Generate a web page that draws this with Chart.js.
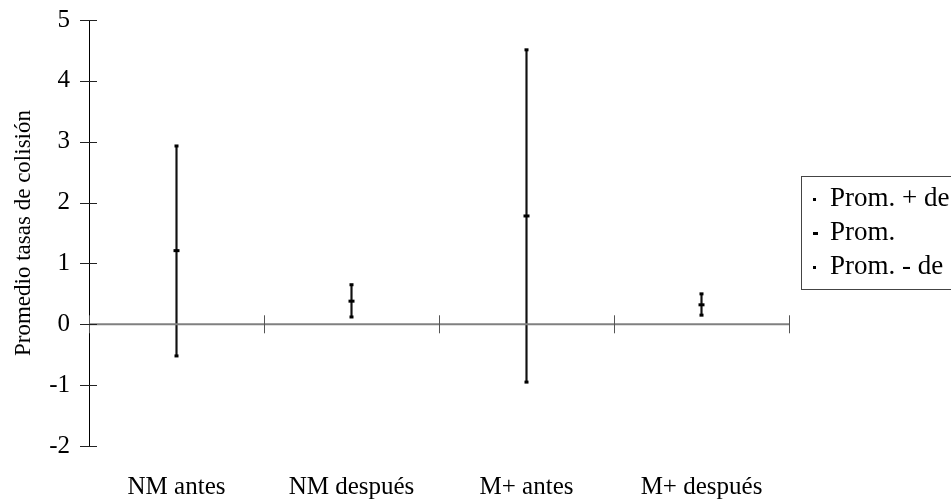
<!DOCTYPE html>
<html>
<head>
<meta charset="utf-8">
<script src="https://cdn.jsdelivr.net/npm/chart.js@4"></script>
<style>
  html, body { margin: 0; padding: 0; background: #fff; overflow: hidden; }
  #wrap { width: 951px; height: 500px; }
</style>
</head>
<body>
<div id="wrap"><canvas id="myChart"></canvas></div>
<script>
const ctx = document.getElementById("myChart");

// data
const categories = ["NM antes", "NM después", "M+ antes", "M+ después"];
const highValues = [2.93, 0.65, 4.51, 0.50];
const meanValues = [1.21, 0.38, 1.78, 0.32];
const lowValues = [-0.52, 0.12, -0.95, 0.15];
const legendLabels = ["Prom. + de", "Prom.", "Prom. - de"];

const serif = "'Liberation Serif', 'Times New Roman', serif";

// axis at zero + ticks that cross the axes, like the old excel style
const crossTicks = {
  id: "crossTicks",
  afterDatasetsDraw(chart) {
    const c = chart.ctx;
    const x = chart.scales.x;
    const y = chart.scales.y;
    const zero = y.getPixelForValue(0);
    c.save();
    // x axis line at zero
    c.strokeStyle = "#808080";
    c.lineWidth = 2;
    c.beginPath();
    c.moveTo(x.left, zero);
    c.lineTo(x.right, zero);
    c.stroke();
    // category boundaries
    c.strokeStyle = "#555";
    c.lineWidth = 1;
    const step = x.getPixelForValue(1) - x.getPixelForValue(0);
    for (let i = 0; i <= categories.length; i++) {
      const px = i < categories.length ? x.getPixelForValue(i) - step / 2 : x.right;
      const sx = Math.round(px) + 0.5;
      c.beginPath();
      c.moveTo(sx, zero - 9);
      c.lineTo(sx, zero + 9);
      c.stroke();
    }
    // y ticks
    c.strokeStyle = "#222";
    y.ticks.forEach((t) => {
      const py = Math.round(y.getPixelForValue(t.value)) + 0.5;
      c.beginPath();
      c.moveTo(y.right - 9, py);
      c.lineTo(y.right + 8, py);
      c.stroke();
    });
    c.restore();
  },
};

// boxed legend on the right (it runs off the edge in the original)
const boxLegend = {
  id: "boxLegend",
  afterDraw(chart) {
    const c = chart.ctx;
    const left = chart.chartArea.right + 12;
    const top = 176;
    const rowH = 34;
    c.save();
    c.strokeStyle = "#444";
    c.lineWidth = 1;
    c.strokeRect(left + 0.5, top + 0.5, 300, 113);
    c.font = "27px " + serif;
    c.fillStyle = "#000";
    c.textBaseline = "middle";
    const markW = [3, 5, 3];
    legendLabels.forEach((lab, i) => {
      const cy = top + 23 + i * rowH;
      c.fillRect(left + 12, cy - 1, markW[i], 3);
      c.fillText(lab, left + 29, cy);
    });
    c.restore();
  },
};

const rangeData = lowValues.map((lo, i) => [lo, highValues[i]]);

new Chart(ctx, {
  data: {
    labels: categories,
    datasets: [
      {
        type: "bar",
        label: "range",
        data: rangeData,
        backgroundColor: "#111",
        barThickness: 1.5,
        order: 3,
      },
      {
        type: "line",
        label: legendLabels[0],
        data: highValues,
        showLine: false,
        pointStyle: "line",
        pointRadius: 2,
        pointBorderWidth: 3,
        borderColor: "#000",
        order: 1,
      },
      {
        type: "line",
        label: legendLabels[1],
        data: meanValues,
        showLine: false,
        pointStyle: "line",
        pointRadius: 3,
        pointBorderWidth: 3,
        borderColor: "#000",
        order: 1,
      },
      {
        type: "line",
        label: legendLabels[2],
        data: lowValues,
        showLine: false,
        pointStyle: "line",
        pointRadius: 2,
        pointBorderWidth: 3,
        borderColor: "#000",
        order: 1,
      },
    ],
  },
  options: {
    responsive: true,
    maintainAspectRatio: false,
    animation: false,
    layout: { padding: { left: 0, right: 162, top: 20, bottom: 0 } },
    plugins: {
      legend: { display: false },
      tooltip: { enabled: false },
    },
    scales: {
      x: {
        type: "category",
        offset: true,
        grid: { display: false },
        border: { display: false },
        ticks: {
          color: "#000",
          font: { family: serif, size: 25 },
          padding: 18,
          maxRotation: 0,
        },
        afterFit(scale) {
          scale.height = 54;
        },
      },
      y: {
        min: -2,
        max: 5,
        grid: { display: false },
        border: { display: true, color: "#000", width: 1 },
        ticks: {
          stepSize: 1,
          color: "#000",
          font: { family: serif, size: 25 },
          padding: 11,
        },
        title: {
          display: true,
          text: "Promedio tasas de colisión",
          color: "#000",
          font: { family: serif, size: 23 },
          padding: { top: 10, bottom: 0 },
        },
        afterFit(scale) {
          scale.width = 89;
          scale.paddingTop = 0;
          scale.paddingBottom = 0;
        },
      },
    },
  },
  plugins: [crossTicks, boxLegend],
});
</script>
</body>
</html>
